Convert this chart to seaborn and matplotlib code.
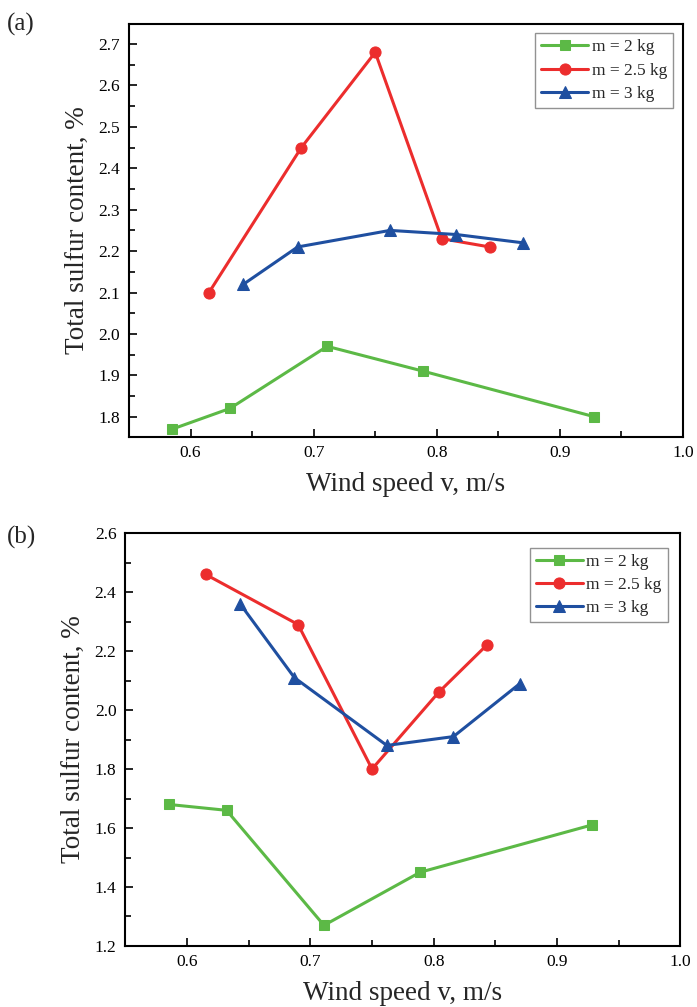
import matplotlib
matplotlib.use("Agg")
import matplotlib.pyplot as plt
import seaborn as sns
import pandas as pd
from matplotlib.ticker import MultipleLocator, FormatStrFormatter

sns.set_theme(style="ticks")
plt.rcParams['font.family'] = ['Liberation Serif', 'DejaVu Serif']

series_names = ["m = 2 kg", "m = 2.5 kg", "m = 3 kg"]
x_2kg = [0.585, 0.632, 0.711, 0.789, 0.928]
x_25kg = [0.615, 0.690, 0.750, 0.804, 0.843]
x_3kg = [0.643, 0.687, 0.762, 0.816, 0.870]

a_2kg = [1.77, 1.82, 1.97, 1.91, 1.80]
a_25kg = [2.10, 2.45, 2.68, 2.23, 2.21]
a_3kg = [2.12, 2.21, 2.25, 2.24, 2.22]

b_2kg = [1.68, 1.66, 1.27, 1.45, 1.61]
b_25kg = [2.46, 2.29, 1.80, 2.06, 2.22]
b_3kg = [2.36, 2.11, 1.88, 1.91, 2.09]

colors = ["#5cb946", "#ec2d2d", "#1f4fa0"]
markers = ["s", "o", "^"]
msizes = [7, 8, 8.5]

fig = plt.figure(figsize=(6.97, 10.07), dpi=100)
ax_a = fig.add_axes([0.185, 0.566, 0.795, 0.410])
ax_b = fig.add_axes([0.180, 0.0606, 0.796, 0.410])

def draw(ax, ys, ylim, ymaj, ymin, label, label_y, anchor):
    xs = [x_2kg, x_25kg, x_3kg]
    for name, x, y, c, m, ms in zip(series_names, xs, ys, colors, markers, msizes):
        df = pd.DataFrame({"x": x, "y": y})
        sns.lineplot(data=df, x="x", y="y", ax=ax, color=c, marker=m,
                     markersize=ms, markeredgecolor=c, linewidth=2.2,
                     label=name, sort=False)
    ax.set_xlim(0.55, 1.0)
    ax.set_ylim(*ylim)
    ax.xaxis.set_major_locator(MultipleLocator(0.1))
    ax.xaxis.set_minor_locator(MultipleLocator(0.05))
    ax.yaxis.set_major_locator(MultipleLocator(ymaj))
    ax.yaxis.set_minor_locator(MultipleLocator(ymin))
    ax.tick_params(which="both", direction="in", labelsize=12.5, width=1.2,
                   color="black", labelcolor="black")
    ax.tick_params(which="major", length=6)
    ax.tick_params(which="minor", length=4)
    ax.tick_params(axis="x", which="both", pad=6)
    ax.tick_params(axis="y", which="both", pad=6.5)
    ax.xaxis.set_major_formatter(FormatStrFormatter("%.1f"))
    ax.yaxis.set_major_formatter(FormatStrFormatter("%.1f"))
    for s in ax.spines.values():
        s.set_linewidth(1.5)
        s.set_color("black")
    ax.set_xlabel("Wind speed v, m/s", fontsize=19.5, labelpad=8)
    ax.set_ylabel("Total sulfur content, %", fontsize=19.5, labelpad=6)
    leg = ax.legend(loc="upper right", fontsize=12.5, frameon=True,
                    fancybox=False, edgecolor="#777777", handlelength=2.7,
                    handletextpad=0.2, borderpad=0.35, labelspacing=0.4,
                    borderaxespad=0, bbox_to_anchor=anchor)
    leg.get_frame().set_linewidth(1.0)
    fig.text(0.010, label_y, label, fontsize=18, va="center", ha="left")

draw(ax_a, [a_2kg, a_25kg, a_3kg], (1.751, 2.748), 0.1, 0.05, "(a)", 0.976,
     (0.982, 0.978))
draw(ax_b, [b_2kg, b_25kg, b_3kg], (1.2, 2.6), 0.2, 0.1, "(b)", 0.466,
     (0.977, 0.964))

fig.savefig("out.png", dpi=100)
